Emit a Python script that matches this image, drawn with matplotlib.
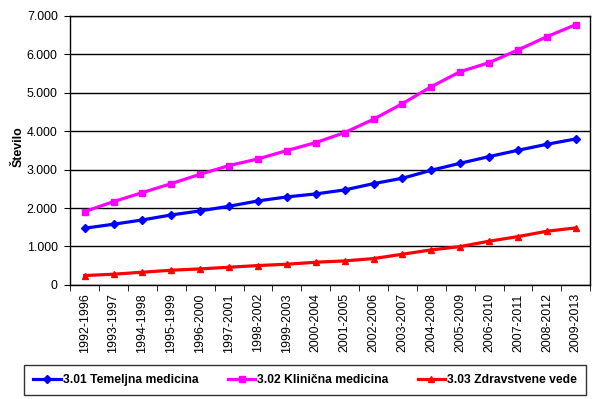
import matplotlib.pyplot as plt
from matplotlib.ticker import FuncFormatter, FixedLocator

plt.rcParams['font.family'] = ['Liberation Sans', 'DejaVu Sans']

periods = ['1992-1996', '1993-1997', '1994-1998', '1995-1999', '1996-2000', '1997-2001',
           '1998-2002', '1999-2003', '2000-2004', '2001-2005', '2002-2006', '2003-2007',
           '2004-2008', '2005-2009', '2006-2010', '2007-2011', '2008-2012', '2009-2013']

temeljna = [1475, 1579, 1691, 1821, 1926, 2047, 2186, 2290, 2368, 2472,
            2636, 2776, 2984, 3166, 3340, 3504, 3660, 3799]
klinicna = [1907, 2168, 2402, 2636, 2880, 3105, 3279, 3496, 3704, 3964,
            4311, 4718, 5160, 5550, 5785, 6115, 6461, 6773]
zdravstvene = [243, 278, 330, 382, 416, 460, 503, 538, 590, 624,
               685, 798, 911, 997, 1137, 1257, 1397, 1483]

fig = plt.figure(figsize=(5.95, 3.99), dpi=100)
ax = fig.add_axes([0.118, 0.286, 0.874, 0.674])

x = range(len(periods))
ax.plot(x, temeljna, color='#0000ff', lw=2.3, marker='D', ms=4, label='3.01 Temeljna medicina')
ax.plot(x, klinicna, color='#ff00ff', lw=2.3, marker='s', ms=4.5, label='3.02 Klinična medicina')
ax.plot(x, zdravstvene, color='#ff0000', lw=2.3, marker='^', ms=5, label='3.03 Zdravstvene vede')

ax.set_xlim(-0.5, len(periods) - 0.5)
ax.set_ylim(0, 7000)
ax.set_yticks(range(0, 7001, 1000))
ax.yaxis.set_major_formatter(FuncFormatter(lambda v, p: f'{int(v):,}'.replace(',', '.')))
ax.grid(axis='y', color='black', lw=1)
ax.set_axisbelow(True)

ax.set_xticks(list(x))
ax.set_xticklabels(periods, rotation=90, fontsize=8.9)
ax.tick_params(axis='x', length=0, pad=6)
ax.xaxis.set_minor_locator(FixedLocator([i - 0.5 for i in range(len(periods) + 1)]))
ax.tick_params(axis='x', which='minor', length=4, direction='out')
ax.tick_params(axis='y', labelsize=8.9, length=4, direction='out', pad=5)

for s in ax.spines.values():
    s.set_color('black')
    s.set_linewidth(1)

ax.set_ylabel('Število', fontsize=8.9, fontweight='bold')
ax.yaxis.set_label_coords(-0.087, 0.513)

leg = fig.legend(loc='center', bbox_to_anchor=(0.513, 0.948 - 0.9), ncol=3,
                 prop={'size': 8.7, 'weight': 'bold'}, frameon=True, fancybox=False,
                 edgecolor='black', handlelength=2.3, handletextpad=0.15, columnspacing=2.4,
                 borderpad=0.75, borderaxespad=0)
leg.get_frame().set_linewidth(1)

fig.savefig('out.png', dpi=100)
